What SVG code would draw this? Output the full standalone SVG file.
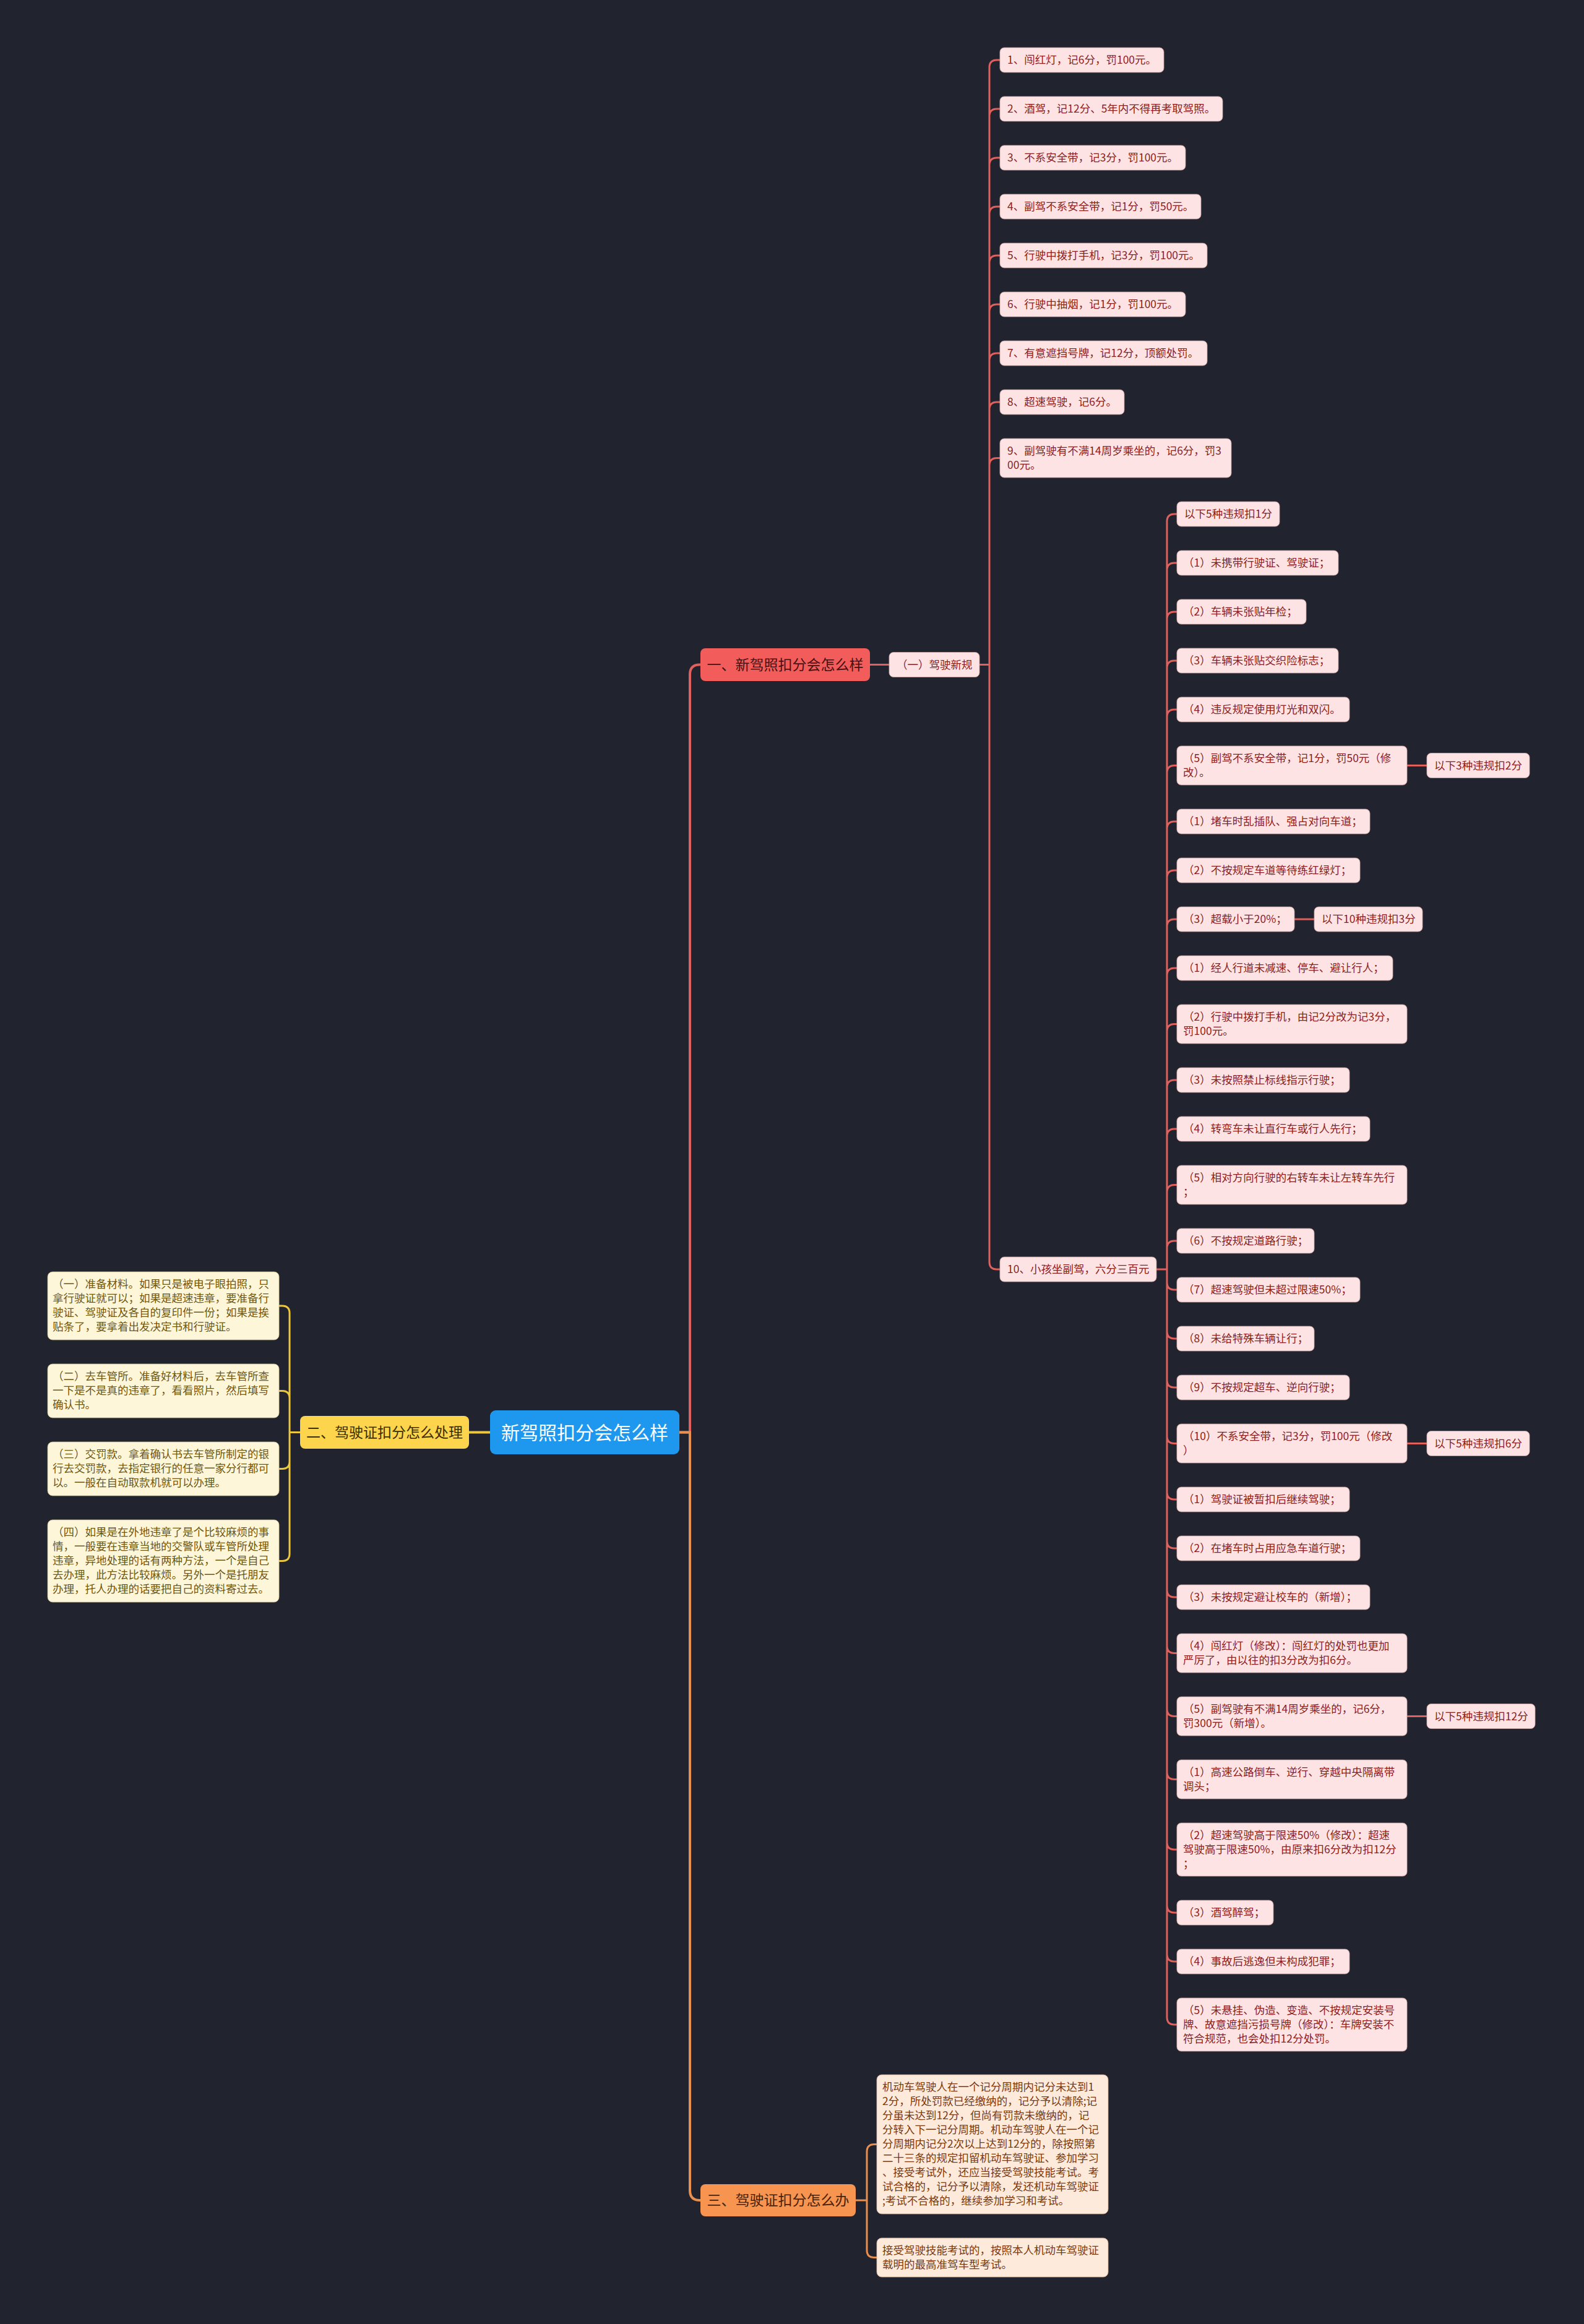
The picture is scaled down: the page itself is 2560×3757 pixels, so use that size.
<svg xmlns="http://www.w3.org/2000/svg" width="2560" height="3757" viewBox="0 0 2560 3757">
<style>
text{font-family:"Noto Sans CJK SC","Noto Sans",sans-serif}
.s{font-size:17.5px}
.pk{fill:#fde3e3;stroke:#c9a3a3;stroke-width:0.8}
.tp{fill:#8b1e1e}
.cr{fill:#fef6d8;stroke:#c9bb8a;stroke-width:0.8}
.tc{fill:#6e5812}
.pe{fill:#fdeadb;stroke:#cfae96;stroke-width:0.8}
.te{fill:#7a3b12}
.big{font-size:23px;text-anchor:middle}
.lr{fill:none;stroke:#e0605d;stroke-width:3}
.lo{fill:none;stroke:#e9904f;stroke-width:3}
.ly{fill:none;stroke:#ecc63f;stroke-width:3}
.l1{stroke-width:4}
</style>
<rect width="2560" height="3757" fill="#21232f"/>

<g id="connectors">
<path class="lr l1" d="M1098,2315.5 H1115 V1090 Q1115,1074.5 1131,1074.5 H1133"/>
<path class="lo l1" d="M1098,2315.5 H1115 V3541 Q1115,3557 1131,3557 H1133"/>
<path class="ly l1" d="M792,2315.5 H758"/>
<path class="ly" d="M485,2315.5 H468 M468,2123 V2511.5 M468,2123 Q468,2111 456,2111 H451 M468,2260.5 Q468,2248.5 456,2248.5 H451 M468,2362.5 Q468,2374.5 456,2374.5 H451 M468,2511.5 Q468,2523.5 456,2523.5 H451"/>
<path class="lr" d="M1406,1074.5 H1437"/>
<path class="lr" d="M1583,1074.5 H1599 M1599,109 V2040 M1599,109 Q1599,97 1611,97 H1616 M1599,188 Q1599,176 1611,176 H1616 M1599,267 Q1599,255 1611,255 H1616 M1599,346 Q1599,334 1611,334 H1616 M1599,425 Q1599,413 1611,413 H1616 M1599,504 Q1599,492 1611,492 H1616 M1599,583 Q1599,571 1611,571 H1616 M1599,662 Q1599,650 1611,650 H1616 M1599,752.5 Q1599,740.5 1611,740.5 H1616 M1599,2040 Q1599,2052 1611,2052 H1616"/>
<path class="lr" d="M1869,2052 H1886 M1886,843 V3261 M1886,843 Q1886,831 1898,831 H1902 M1886,922 Q1886,910 1898,910 H1902 M1886,1001 Q1886,989 1898,989 H1902 M1886,1080 Q1886,1068 1898,1068 H1902 M1886,1159 Q1886,1147 1898,1147 H1902 M1886,1249.5 Q1886,1237.5 1898,1237.5 H1902 M1886,1340 Q1886,1328 1898,1328 H1902 M1886,1419 Q1886,1407 1898,1407 H1902 M1886,1498 Q1886,1486 1898,1486 H1902 M1886,1577 Q1886,1565 1898,1565 H1902 M1886,1667.5 Q1886,1655.5 1898,1655.5 H1902 M1886,1758 Q1886,1746 1898,1746 H1902 M1886,1837 Q1886,1825 1898,1825 H1902 M1886,1927.5 Q1886,1915.5 1898,1915.5 H1902 M1886,2018 Q1886,2006 1898,2006 H1902 M1886,2073 Q1886,2085 1898,2085 H1902 M1886,2152 Q1886,2164 1898,2164 H1902 M1886,2231 Q1886,2243 1898,2243 H1902 M1886,2321.5 Q1886,2333.5 1898,2333.5 H1902 M1886,2412 Q1886,2424 1898,2424 H1902 M1886,2491 Q1886,2503 1898,2503 H1902 M1886,2570 Q1886,2582 1898,2582 H1902 M1886,2660.5 Q1886,2672.5 1898,2672.5 H1902 M1886,2762.5 Q1886,2774.5 1898,2774.5 H1902 M1886,2864.5 Q1886,2876.5 1898,2876.5 H1902 M1886,2978 Q1886,2990 1898,2990 H1902 M1886,3080 Q1886,3092 1898,3092 H1902 M1886,3159 Q1886,3171 1898,3171 H1902 M1886,3261 Q1886,3273 1898,3273 H1902"/>
<path class="lr" d="M2274,1237.5 H2306 M2092,1486 H2124 M2274,2333.5 H2306 M2274,2774.5 H2306"/>
<path class="lo" d="M1383,3557 H1401 M1401,3478.5 V3637.5 M1401,3478.5 Q1401,3466.5 1413,3466.5 H1417 M1401,3637.5 Q1401,3649.5 1413,3649.5 H1417"/>
</g>

<g id="root"><rect x="792" y="2280" width="306" height="71" rx="9" fill="#1e98ee"/><text x="945" y="2326.5" font-size="30" text-anchor="middle" fill="#ffffff">新驾照扣分会怎么样</text></g>
<g id="b1"><rect x="1132" y="1048" width="274" height="53" rx="8" fill="#f25d5b"/><text class="big" x="1269" y="1083" fill="#4a1010">一、新驾照扣分会怎么样</text></g>
<g id="b2"><rect x="485" y="2289" width="273" height="53" rx="8" fill="#fcd54c"/><text class="big" x="621.5" y="2324" fill="#3b2f00">二、驾驶证扣分怎么处理</text></g>
<g id="b3"><rect x="1132" y="3531" width="251" height="52" rx="8" fill="#f7944f"/><text class="big" x="1257.5" y="3565" fill="#4a2208">三、驾驶证扣分怎么办</text></g>

<g id="c1"><rect class="pk" x="1437" y="1054.5" width="146" height="40" rx="7"/><text class="s tp" x="1449" y="1080.8">（一）驾驶新规</text></g>

<g id="i1"><rect class="pk" x="1616" y="77" width="265" height="40" rx="7"/><text class="s tp" x="1628" y="103.3">1、闯红灯，记6分，罚100元。</text></g>
<g id="i2"><rect class="pk" x="1616" y="156" width="360" height="40" rx="7"/><text class="s tp" x="1628" y="182.3">2、酒驾，记12分、5年内不得再考取驾照。</text></g>
<g id="i3"><rect class="pk" x="1616" y="235" width="300" height="40" rx="7"/><text class="s tp" x="1628" y="261.3">3、不系安全带，记3分，罚100元。</text></g>
<g id="i4"><rect class="pk" x="1616" y="314" width="325" height="40" rx="7"/><text class="s tp" x="1628" y="340.3">4、副驾不系安全带，记1分，罚50元。</text></g>
<g id="i5"><rect class="pk" x="1616" y="393" width="335" height="40" rx="7"/><text class="s tp" x="1628" y="419.3">5、行驶中拨打手机，记3分，罚100元。</text></g>
<g id="i6"><rect class="pk" x="1616" y="472" width="300" height="40" rx="7"/><text class="s tp" x="1628" y="498.3">6、行驶中抽烟，记1分，罚100元。</text></g>
<g id="i7"><rect class="pk" x="1616" y="551" width="335" height="40" rx="7"/><text class="s tp" x="1628" y="577.3">7、有意遮挡号牌，记12分，顶额处罚。</text></g>
<g id="i8"><rect class="pk" x="1616" y="630" width="201" height="40" rx="7"/><text class="s tp" x="1628" y="656.3">8、超速驾驶，记6分。</text></g>
<g id="i9"><rect class="pk" x="1616" y="709" width="374" height="63" rx="7"/><text class="s tp" x="1628" y="735.3">9、副驾驶有不满14周岁乘坐的，记6分，罚3<tspan x="1628" dy="23">00元。</tspan></text></g>
<g id="i10"><rect class="pk" x="1616" y="2032" width="253" height="40" rx="7"/><text class="s tp" x="1628" y="2058.3">10、小孩坐副驾，六分三百元</text></g>

<g id="na"><rect class="pk" x="1902" y="811" width="166" height="40" rx="7"/><text class="s tp" x="1914" y="837.3">以下5种违规扣1分</text></g>
<g id="nb"><rect class="pk" x="1902" y="890" width="261" height="40" rx="7"/><text class="s tp" x="1912" y="916.3">（1）未携带行驶证、驾驶证；</text></g>
<g id="nc"><rect class="pk" x="1902" y="969" width="209" height="40" rx="7"/><text class="s tp" x="1912" y="995.3">（2）车辆未张贴年检；</text></g>
<g id="nd"><rect class="pk" x="1902" y="1048" width="261" height="40" rx="7"/><text class="s tp" x="1912" y="1074.3">（3）车辆未张贴交织险标志；</text></g>
<g id="ne"><rect class="pk" x="1902" y="1127" width="279" height="40" rx="7"/><text class="s tp" x="1912" y="1153.3">（4）违反规定使用灯光和双闪。</text></g>
<g id="nf"><rect class="pk" x="1902" y="1206" width="372" height="63" rx="7"/><text class="s tp" x="1912" y="1232.3">（5）副驾不系安全带，记1分，罚50元（修<tspan x="1912" dy="23">改）。</tspan></text></g>
<g id="nf2"><rect class="pk" x="2306" y="1217.5" width="166" height="40" rx="7"/><text class="s tp" x="2318" y="1243.8">以下3种违规扣2分</text></g>
<g id="ng"><rect class="pk" x="1902" y="1308" width="312" height="40" rx="7"/><text class="s tp" x="1912" y="1334.3">（1）堵车时乱插队、强占对向车道；</text></g>
<g id="nh"><rect class="pk" x="1902" y="1387" width="296" height="40" rx="7"/><text class="s tp" x="1912" y="1413.3">（2）不按规定车道等待练红绿灯；</text></g>
<g id="ni"><rect class="pk" x="1902" y="1466" width="190" height="40" rx="7"/><text class="s tp" x="1912" y="1492.3">（3）超载小于20%；</text></g>
<g id="ni2"><rect class="pk" x="2124" y="1466" width="175" height="40" rx="7"/><text class="s tp" x="2136" y="1492.3">以下10种违规扣3分</text></g>
<g id="nj"><rect class="pk" x="1902" y="1545" width="349" height="40" rx="7"/><text class="s tp" x="1912" y="1571.3">（1）经人行道未减速、停车、避让行人；</text></g>
<g id="nk"><rect class="pk" x="1902" y="1624" width="372" height="63" rx="7"/><text class="s tp" x="1912" y="1650.3">（2）行驶中拨打手机，由记2分改为记3分，<tspan x="1912" dy="23">罚100元。</tspan></text></g>
<g id="nl"><rect class="pk" x="1902" y="1726" width="279" height="40" rx="7"/><text class="s tp" x="1912" y="1752.3">（3）未按照禁止标线指示行驶；</text></g>
<g id="nm"><rect class="pk" x="1902" y="1805" width="312" height="40" rx="7"/><text class="s tp" x="1912" y="1831.3">（4）转弯车未让直行车或行人先行；</text></g>
<g id="nn"><rect class="pk" x="1902" y="1884" width="372" height="63" rx="7"/><text class="s tp" x="1912" y="1910.3">（5）相对方向行驶的右转车未让左转车先行<tspan x="1912" dy="23">；</tspan></text></g>
<g id="no"><rect class="pk" x="1902" y="1986" width="222" height="40" rx="7"/><text class="s tp" x="1912" y="2012.3">（6）不按规定道路行驶；</text></g>
<g id="np"><rect class="pk" x="1902" y="2065" width="296" height="40" rx="7"/><text class="s tp" x="1912" y="2091.3">（7）超速驾驶但未超过限速50%；</text></g>
<g id="nq"><rect class="pk" x="1902" y="2144" width="222" height="40" rx="7"/><text class="s tp" x="1912" y="2170.3">（8）未给特殊车辆让行；</text></g>
<g id="nr"><rect class="pk" x="1902" y="2223" width="279" height="40" rx="7"/><text class="s tp" x="1912" y="2249.3">（9）不按规定超车、逆向行驶；</text></g>
<g id="ns"><rect class="pk" x="1902" y="2302" width="372" height="63" rx="7"/><text class="s tp" x="1912" y="2328.3">（10）不系安全带，记3分，罚100元（修改<tspan x="1912" dy="23">）</tspan></text></g>
<g id="ns2"><rect class="pk" x="2306" y="2313.5" width="166" height="40" rx="7"/><text class="s tp" x="2318" y="2339.8">以下5种违规扣6分</text></g>
<g id="nt"><rect class="pk" x="1902" y="2404" width="279" height="40" rx="7"/><text class="s tp" x="1912" y="2430.3">（1）驾驶证被暂扣后继续驾驶；</text></g>
<g id="nu"><rect class="pk" x="1902" y="2483" width="296" height="40" rx="7"/><text class="s tp" x="1912" y="2509.3">（2）在堵车时占用应急车道行驶；</text></g>
<g id="nv"><rect class="pk" x="1902" y="2562" width="312" height="40" rx="7"/><text class="s tp" x="1912" y="2588.3">（3）未按规定避让校车的（新增）；</text></g>
<g id="nw"><rect class="pk" x="1902" y="2641" width="372" height="63" rx="7"/><text class="s tp" x="1912" y="2667.3">（4）闯红灯（修改）：闯红灯的处罚也更加<tspan x="1912" dy="23">严厉了，由以往的扣3分改为扣6分。</tspan></text></g>
<g id="nx"><rect class="pk" x="1902" y="2743" width="372" height="63" rx="7"/><text class="s tp" x="1912" y="2769.3">（5）副驾驶有不满14周岁乘坐的，记6分，<tspan x="1912" dy="23">罚300元（新增）。</tspan></text></g>
<g id="nx2"><rect class="pk" x="2306" y="2754.5" width="175" height="40" rx="7"/><text class="s tp" x="2318" y="2780.8">以下5种违规扣12分</text></g>
<g id="ny"><rect class="pk" x="1902" y="2845" width="372" height="63" rx="7"/><text class="s tp" x="1912" y="2871.3">（1）高速公路倒车、逆行、穿越中央隔离带<tspan x="1912" dy="23">调头；</tspan></text></g>
<g id="nz"><rect class="pk" x="1902" y="2947" width="372" height="86" rx="7"/><text class="s tp" x="1912" y="2973.3">（2）超速驾驶高于限速50%（修改）：超速<tspan x="1912" dy="23">驾驶高于限速50%，由原来扣6分改为扣12分</tspan><tspan x="1912" dy="23">；</tspan></text></g>
<g id="naa"><rect class="pk" x="1902" y="3072" width="156" height="40" rx="7"/><text class="s tp" x="1912" y="3098.3">（3）酒驾醉驾；</text></g>
<g id="nbb"><rect class="pk" x="1902" y="3151" width="279" height="40" rx="7"/><text class="s tp" x="1912" y="3177.3">（4）事故后逃逸但未构成犯罪；</text></g>
<g id="ncc"><rect class="pk" x="1902" y="3230" width="372" height="86" rx="7"/><text class="s tp" x="1912" y="3256.3">（5）未悬挂、伪造、变造、不按规定安装号<tspan x="1912" dy="23">牌、故意遮挡污损号牌（修改）：车牌安装不</tspan><tspan x="1912" dy="23">符合规范，也会处扣12分处罚。</tspan></text></g>

<g id="y1"><rect class="cr" x="77" y="2056" width="374" height="110" rx="8"/><text class="s tc" x="85" y="2082.3">（一）准备材料。如果只是被电子眼拍照，只<tspan x="85" dy="23">拿行驶证就可以；如果是超速违章，要准备行</tspan><tspan x="85" dy="23">驶证、驾驶证及各自的复印件一份；如果是挨</tspan><tspan x="85" dy="23">贴条了，要拿着出发决定书和行驶证。</tspan></text></g>
<g id="y2"><rect class="cr" x="77" y="2205" width="374" height="87" rx="8"/><text class="s tc" x="85" y="2231.3">（二）去车管所。准备好材料后，去车管所查<tspan x="85" dy="23">一下是不是真的违章了，看看照片，然后填写</tspan><tspan x="85" dy="23">确认书。</tspan></text></g>
<g id="y3"><rect class="cr" x="77" y="2331" width="374" height="87" rx="8"/><text class="s tc" x="85" y="2357.3">（三）交罚款。拿着确认书去车管所制定的银<tspan x="85" dy="23">行去交罚款，去指定银行的任意一家分行都可</tspan><tspan x="85" dy="23">以。一般在自动取款机就可以办理。</tspan></text></g>
<g id="y4"><rect class="cr" x="77" y="2457" width="374" height="133" rx="8"/><text class="s tc" x="85" y="2483.3">（四）如果是在外地违章了是个比较麻烦的事<tspan x="85" dy="23">情，一般要在违章当地的交警队或车管所处理</tspan><tspan x="85" dy="23">违章，异地处理的话有两种方法，一个是自己</tspan><tspan x="85" dy="23">去办理，此方法比较麻烦。另外一个是托朋友</tspan><tspan x="85" dy="23">办理，托人办理的话要把自己的资料寄过去。</tspan></text></g>

<g id="o1"><rect class="pe" x="1417" y="3354" width="374" height="225" rx="8"/><text class="s te" x="1426" y="3380.3">机动车驾驶人在一个记分周期内记分未达到1<tspan x="1426" dy="23">2分，所处罚款已经缴纳的，记分予以清除;记</tspan><tspan x="1426" dy="23">分虽未达到12分，但尚有罚款未缴纳的，记</tspan><tspan x="1426" dy="23">分转入下一记分周期。机动车驾驶人在一个记</tspan><tspan x="1426" dy="23">分周期内记分2次以上达到12分的，除按照第</tspan><tspan x="1426" dy="23">二十三条的规定扣留机动车驾驶证、参加学习</tspan><tspan x="1426" dy="23">、接受考试外，还应当接受驾驶技能考试。考</tspan><tspan x="1426" dy="23">试合格的，记分予以清除，发还机动车驾驶证</tspan><tspan x="1426" dy="23">;考试不合格的，继续参加学习和考试。</tspan></text></g>
<g id="o2"><rect class="pe" x="1417" y="3618" width="374" height="63" rx="8"/><text class="s te" x="1426" y="3644.3">接受驾驶技能考试的，按照本人机动车驾驶证<tspan x="1426" dy="23">载明的最高准驾车型考试。</tspan></text></g>
</svg>
